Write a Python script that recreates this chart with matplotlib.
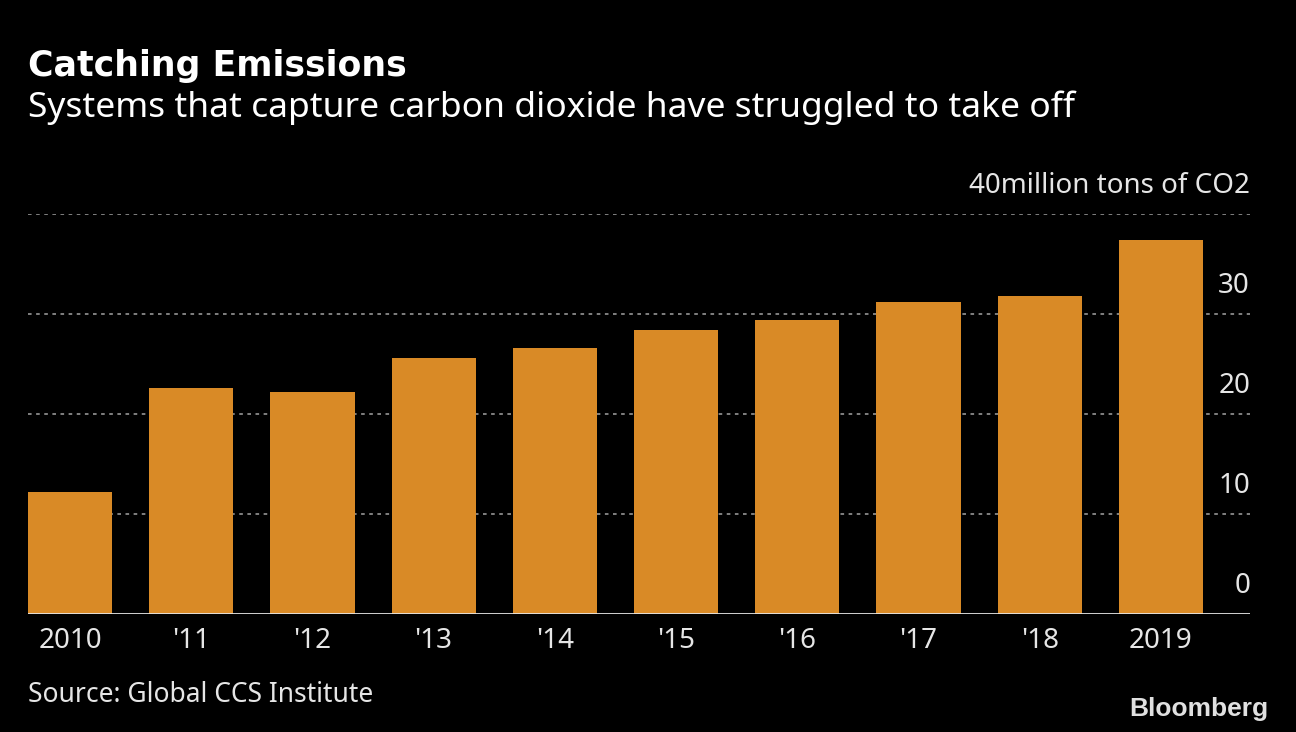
import numpy as np
import matplotlib
matplotlib.use("Agg")
from matplotlib import pyplot as plt

years = ['2010', "'11", "'12", "'13", "'14", "'15", "'16", "'17", "'18", '2019']
captured = [12.2, 22.6, 22.2, 25.6, 26.6, 28.4, 29.4, 31.2, 31.8, 37.4]
y_ticks = [0, 10, 20, 30, 40]

bg = '#000000'
bar_color = '#D98A26'
text_color = '#E6E6E6'
grid_color = '#8A8A8A'

plt.rcParams['font.family'] = ['Noto Sans', 'DejaVu Sans']

fig = plt.figure(figsize=(12.96, 7.32), dpi=100, facecolor=bg)
ax = fig.add_axes([28 / 1296, 1 - 614 / 732, (1250 - 28) / 1296, 400 / 732])
ax.set_facecolor(bg)

x = np.arange(len(years))
width = 0.694
ax.bar(x, captured, width, color=bar_color, zorder=3)

ax.set_xlim(-width / 2, 9.735)
ax.set_ylim(0, 40)

# dotted gridlines
for t in y_ticks[1:]:
    ax.axhline(t, color=grid_color, lw=1.3, ls=(0, (2, 2.5)), zorder=1)
ax.axhline(0, color=text_color, lw=2, zorder=4)

for s in ax.spines.values():
    s.set_visible(False)
ax.set_yticks([])
ax.set_xticks(x)
ax.set_xticklabels(years, color=text_color, fontsize=20)
ax.tick_params(axis='x', length=0, pad=9)

# y labels sit above gridlines at the right edge
for t in y_ticks:
    label = str(t)
    if t == 40:
        label = '40million tons of CO2'
    ax.text(1.0, t + 1.4, label, transform=ax.get_yaxis_transform(),
            ha='right', va='bottom', color=text_color, fontsize=20)

fig.text(28 / 1296, 1 - 76 / 732, 'Catching Emissions', color='white',
         fontsize=25, fontweight='bold', ha='left', va='baseline',
         family=['DejaVu Sans'])
fig.text(28 / 1296, 1 - 117 / 732, 'Systems that capture carbon dioxide have struggled to take off',
         color='white', fontsize=25.5, ha='left', va='baseline')
fig.text(28 / 1296, 1 - 702 / 732, 'Source: Global CCS Institute', color=text_color,
         fontsize=19, ha='left', va='baseline')
fig.text(1268 / 1296, 1 - 716 / 732, 'Bloomberg', color='#E0E0E0',
         fontsize=19, fontweight='bold', ha='right', va='baseline',
         family=['Liberation Sans', 'DejaVu Sans'])

fig.savefig('out.png', dpi=100, facecolor=bg)
